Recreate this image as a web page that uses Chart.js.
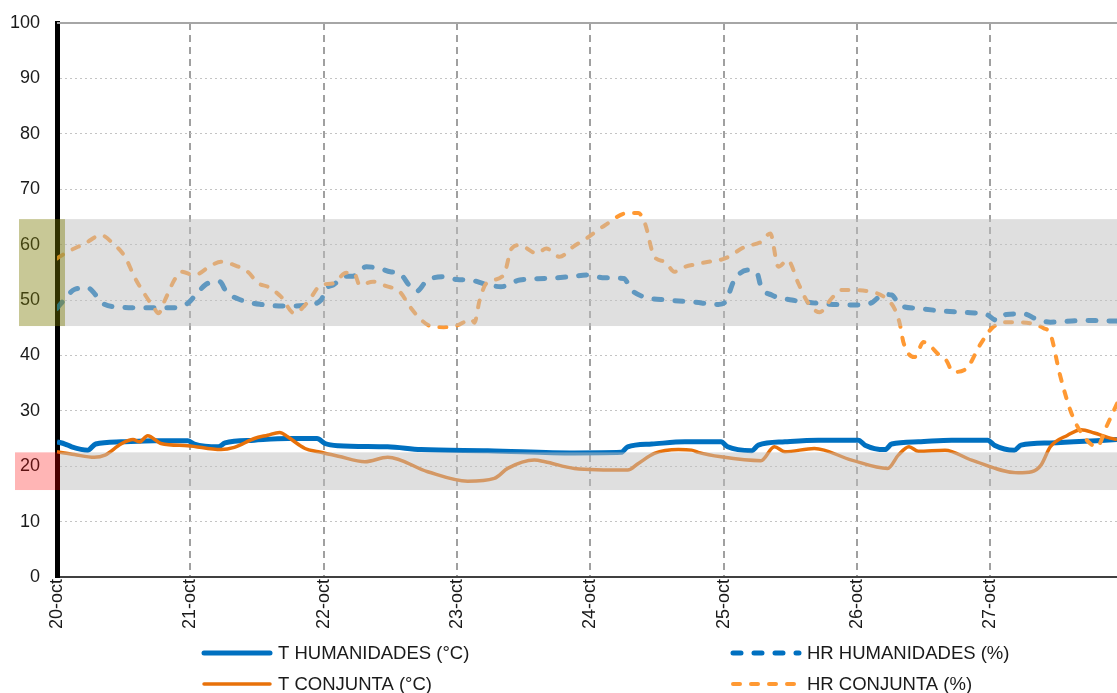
<!DOCTYPE html>
<html>
<head>
<meta charset="utf-8">
<script src="https://cdn.jsdelivr.net/npm/chart.js@4.4.1/dist/chart.umd.min.js"></script>
<style>
  html, body { margin: 0; padding: 0; background: #fff; }
  #chart { display: block; }
</style>
</head>
<body>
<canvas id="chart" width="1117" height="693"></canvas>
<script>
// x values are days since 20-oct 00:00
const dayLabels = ["20-oct", "21-oct", "22-oct", "23-oct", "24-oct", "25-oct", "26-oct", "27-oct"];
const lastDay = 7.95;

// comfort ranges shown as grey bands
const hrBand = [45.3, 64.6];
const tBand = [15.7, 22.5];

const tHumanidades = [
	[0, 24.4], [0.06, 24.0], [0.11, 23.5], [0.23, 22.9], [0.29, 24.0], [0.48, 24.4], [0.73, 24.6],
	[0.98, 24.6], [1.03, 24.0], [1.21, 23.5], [1.26, 24.2], [1.48, 24.7], [1.73, 25.0], [1.95, 25.0],
	[2.01, 24.1], [2.11, 23.7], [2.48, 23.5], [2.73, 23.0], [3.23, 22.8], [3.88, 22.4], [4.23, 22.5],
	[4.28, 23.5], [4.46, 24.0], [4.71, 24.4], [4.98, 24.4], [5.03, 23.5], [5.21, 22.8], [5.26, 23.8],
	[5.46, 24.4], [5.71, 24.7], [6.01, 24.7], [6.06, 23.8], [6.21, 23.0], [6.26, 24.0], [6.46, 24.4],
	[6.71, 24.7], [6.98, 24.7], [7.03, 23.8], [7.18, 22.9], [7.23, 23.8], [7.45, 24.2], [7.86, 24.7],
	[7.95, 24.8],
];

const tConjunta = [
	[0, 22.6], [0.13, 22.1], [0.28, 21.6], [0.36, 22.0], [0.48, 24.0], [0.57, 24.8], [0.62, 24.4],
	[0.68, 25.5], [0.78, 24.1], [0.98, 23.7], [1.23, 23.0], [1.33, 23.4], [1.48, 25.0], [1.58, 25.6],
	[1.67, 26.1], [1.73, 25.3], [1.86, 23.2], [1.96, 22.6], [2.11, 21.8], [2.31, 20.8], [2.48, 21.6],
	[2.78, 19.0], [3.08, 17.3], [3.28, 17.8], [3.38, 19.6], [3.58, 21.1], [3.66, 20.8], [3.88, 19.6],
	[4.28, 19.3], [4.36, 20.5], [4.48, 22.3], [4.66, 23.0], [4.76, 22.9], [4.81, 22.5], [4.98, 21.7],
	[5.28, 21.0], [5.38, 23.5], [5.46, 22.6], [5.68, 23.2], [5.96, 21.1], [6.23, 19.6], [6.31, 22.0],
	[6.39, 23.5], [6.46, 22.7], [6.66, 22.9], [6.86, 21.1], [7.21, 18.8], [7.31, 19.0], [7.38, 20.2],
	[7.45, 23.5], [7.58, 25.6], [7.68, 26.6], [7.78, 26.0], [7.88, 25.2], [7.95, 24.8],
];

const hrHumanidades = [
	[0, 48.5], [0.07, 50.5], [0.13, 51.9], [0.23, 52.2], [0.28, 51.2], [0.33, 49.6], [0.48, 48.7],
	[0.61, 48.6], [0.73, 48.6], [0.86, 48.6], [0.98, 49.4], [1.06, 51.5], [1.13, 53.0], [1.22, 53.3],
	[1.27, 51.5], [1.38, 50.0], [1.53, 49.2], [1.73, 48.9], [1.88, 49.1], [1.98, 50.0], [2.02, 52.1],
	[2.07, 52.7], [2.17, 54.3], [2.22, 54.3], [2.32, 56.0], [2.42, 55.7], [2.5, 55.1], [2.57, 54.8],
	[2.65, 52.4], [2.7, 51.6], [2.77, 53.4], [2.9, 54.2], [3.0, 53.7], [3.1, 53.6], [3.22, 52.8],
	[3.33, 52.4], [3.47, 53.6], [3.67, 53.9], [3.85, 54.2], [3.97, 54.5], [4.11, 54.0], [4.25, 53.9],
	[4.31, 51.8], [4.41, 50.5], [4.58, 50.0], [4.78, 49.6], [4.96, 49.2], [5.01, 49.6], [5.08, 53.6],
	[5.18, 55.4], [5.25, 54.9], [5.28, 52.4], [5.36, 50.9], [5.51, 50.0], [5.71, 49.4], [5.96, 49.1],
	[6.1, 49.4], [6.2, 51.0], [6.26, 50.9], [6.32, 49.1], [6.45, 48.5], [6.65, 48.0], [6.85, 47.7],
	[6.97, 47.4], [7.05, 46.3], [7.12, 47.4], [7.25, 47.5], [7.35, 46.5], [7.45, 46.0], [7.7, 46.3],
	[7.95, 46.2],
];

const hrConjunta = [
	[0, 57.5], [0.08, 58.7], [0.21, 60.2], [0.33, 61.7], [0.42, 60.2], [0.51, 57.8], [0.58, 54.2],
	[0.63, 52.1], [0.73, 48.5], [0.76, 47.6], [0.81, 50.0], [0.88, 53.6], [0.93, 55.1], [1.03, 54.5],
	[1.16, 56.3], [1.23, 56.9], [1.33, 56.3], [1.43, 55.1], [1.51, 53.0], [1.58, 52.4], [1.68, 50.6],
	[1.78, 47.6], [1.88, 49.6], [1.98, 52.7], [2.07, 53.0], [2.17, 54.9], [2.23, 54.8], [2.27, 52.7],
	[2.37, 53.3], [2.47, 52.5], [2.57, 51.5], [2.65, 48.7], [2.72, 46.7], [2.8, 45.3], [2.9, 45.1],
	[3.0, 45.4], [3.11, 46.5], [3.13, 45.9], [3.17, 50.0], [3.22, 53.0], [3.35, 54.5], [3.41, 59.3],
	[3.47, 59.9], [3.6, 58.4], [3.67, 59.3], [3.77, 57.8], [3.87, 59.6], [3.97, 61.1], [4.11, 63.5],
	[4.28, 65.7], [4.36, 65.7], [4.41, 63.8], [4.48, 57.8], [4.56, 56.9], [4.63, 55.1], [4.71, 56.0],
	[4.78, 56.4], [4.91, 57.0], [5.01, 57.5], [5.16, 59.6], [5.28, 60.5], [5.35, 62.0], [5.41, 56.0],
	[5.48, 57.2], [5.56, 53.0], [5.63, 49.6], [5.72, 47.8], [5.81, 50.3], [5.88, 51.8], [5.96, 51.8],
	[6.1, 51.5], [6.2, 50.6], [6.28, 48.5], [6.32, 45.8], [6.35, 42.2], [6.43, 39.7], [6.5, 42.4],
	[6.62, 40.0], [6.67, 39.1], [6.72, 37.0], [6.82, 37.6], [6.92, 41.8], [7.02, 45.1], [7.15, 46.0],
	[7.3, 45.8], [7.4, 44.9], [7.45, 43.9], [7.52, 36.7], [7.6, 30.1], [7.67, 26.5], [7.8, 23.5],
	[7.87, 27.1], [7.95, 31.3],
];

const toPoints = (arr) => arr.map(([x, y]) => ({ x, y }));

Chart.defaults.font.family = '"Liberation Sans", Arial, sans-serif';
Chart.defaults.font.size = 18;
Chart.defaults.color = "#1a1a1a";

// --- bands, frame and the coloured markers at the left ---
const bandsPlugin = {
	id: "bands",
	beforeDatasetsDraw(chart) {
		const { ctx, chartArea } = chart;
		ctx.save();
		ctx.strokeStyle = "#a6a6a6";
		ctx.lineWidth = 2;
		ctx.beginPath();
		ctx.moveTo(chartArea.left, chartArea.top);
		ctx.lineTo(chartArea.right, chartArea.top);
		ctx.stroke();
		ctx.restore();
	},
	afterDatasetsDraw(chart) {
		const { ctx, chartArea, scales } = chart;
		const y = scales.y;
		ctx.save();
		ctx.fillStyle = "rgba(191,191,191,0.5)";
		[hrBand, tBand].forEach(([lo, hi]) => {
			const top = y.getPixelForValue(hi);
			const bottom = y.getPixelForValue(lo);
			ctx.fillRect(chartArea.left + 3, top, chartArea.right - chartArea.left - 3, bottom - top);
		});
		// markers over the axis
		let top = y.getPixelForValue(hrBand[1]);
		let bottom = y.getPixelForValue(hrBand[0]);
		ctx.fillStyle = "rgba(122,122,0,0.41)";
		ctx.fillRect(chartArea.left - 38, top, 46, bottom - top);
		top = y.getPixelForValue(tBand[1]);
		bottom = y.getPixelForValue(tBand[0]);
		ctx.fillStyle = "rgba(255,0,0,0.29)";
		ctx.fillRect(chartArea.left - 42, top, 45, bottom - top);
		ctx.restore();
	},
};

// --- two column legend under the chart ---
const legendSlots = [[204, 653], [204, 684], [733, 653], [733, 684]];
const legendPlugin = {
	id: "twoColLegend",
	afterDraw(chart) {
		const { ctx } = chart;
		chart.data.datasets.forEach((ds, i) => {
			const [x, y] = legendSlots[i];
			ctx.save();
			ctx.strokeStyle = ds.borderColor;
			ctx.lineWidth = ds.borderWidth;
			ctx.lineCap = "round";
			ctx.setLineDash(ds.borderDash || []);
			ctx.beginPath();
			ctx.moveTo(x, y);
			ctx.lineTo(x + 66, y);
			ctx.stroke();
			ctx.setLineDash([]);
			ctx.fillStyle = "#1a1a1a";
			ctx.font = '18.5px "Liberation Sans", Arial, sans-serif';
			ctx.textBaseline = "middle";
			ctx.fillText(ds.label, x + 74, y + 1);
			ctx.restore();
		});
	},
};

new Chart(document.getElementById("chart"), {
	type: "line",
	data: {
		datasets: [
			{
				label: "T HUMANIDADES (°C)",
				data: toPoints(tHumanidades),
				borderColor: "#0070c0",
				borderWidth: 5,
				order: 4,
			},
			{
				label: "T CONJUNTA (°C)",
				data: toPoints(tConjunta),
				borderColor: "#e8710a",
				borderWidth: 3.5,
				order: 2,
			},
			{
				label: "HR HUMANIDADES (%)",
				data: toPoints(hrHumanidades),
				borderColor: "#0070c0",
				borderWidth: 5,
				borderDash: [8, 13],
				borderCapStyle: "round",
				order: 3,
			},
			{
				label: "HR CONJUNTA (%)",
				data: toPoints(hrConjunta),
				borderColor: "#ff9933",
				borderWidth: 4,
				borderDash: [7, 11],
				borderCapStyle: "round",
				order: 1,
			},
		],
	},
	options: {
		responsive: false,
		animation: false,
		layout: { padding: { top: 23, right: 0, left: 0, bottom: 0 } },
		elements: {
			point: { radius: 0 },
			line: { cubicInterpolationMode: "monotone", fill: false },
		},
		plugins: { legend: { display: false }, tooltip: { enabled: false } },
		scales: {
			x: {
				type: "linear",
				min: 0,
				max: lastDay,
				afterBuildTicks: (scale) => {
					scale.ticks = dayLabels.map((_, i) => ({ value: i }));
				},
				afterFit: (scale) => {
					scale.height = 116;
				},
				ticks: {
					minRotation: 90,
					maxRotation: 90,
					padding: 2,
					callback: (v) => dayLabels[v],
				},
				grid: {
					color: (c) => (c.tick && c.tick.value === 0 ? "rgba(0,0,0,0)" : "#a0a0a0"),
					lineWidth: 2,
					drawTicks: false,
				},
				border: { color: "#404040", width: 2, dash: [7, 5] },
			},
			y: {
				min: 0,
				max: 100,
				afterFit: (scale) => {
					scale.width = 57;
					scale.paddingTop = 0;
					scale.paddingBottom = 0;
				},
				ticks: { stepSize: 10, padding: 17 },
				grid: {
					color: (c) =>
						c.tick && (c.tick.value === 0 || c.tick.value === 100) ? "rgba(0,0,0,0)" : "#c4c4c4",
					lineWidth: 1,
					drawTicks: false,
				},
				border: { color: "#000", width: 5, dash: [2, 3] },
			},
		},
	},
	plugins: [bandsPlugin, legendPlugin],
});
</script>
</body>
</html>
